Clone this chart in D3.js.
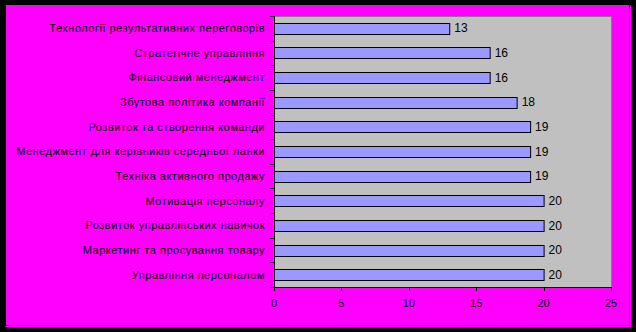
<!DOCTYPE html>
<html>
  <head>
    <meta charset="utf-8" />
    <title>Тренінги</title>
    <script src="https://d3js.org/d3.v7.min.js" charset="utf-8"></script>
    <style>
      body {
        margin: 0;
        background: #000;
      }
      svg {
        display: block;
        font-family: "Liberation Sans", Arial, sans-serif;
      }
      .cat-label {
        font-size: 11px;
        letter-spacing: 0.5px;
      }
      .val-label {
        font-size: 12px;
      }
      .tick-label {
        font-size: 11px;
      }
    </style>
  </head>
  <body>
    <svg></svg>
    <script>
      const categories = [
        "Технології результативних переговорів",
        "Стратегічне управління",
        "Фінансовий менеджмент",
        "Збутова політика компанії",
        "Розвиток та створення команди",
        "Менеджмент для керівників середньої ланки",
        "Техніка активного продажу",
        "Мотивація персоналу",
        "Розвиток управлінських навичок",
        "Маркетинг та просування товару",
        "Управління персоналом",
      ];
      const values = [13, 16, 16, 18, 19, 19, 19, 20, 20, 20, 20];
      const xTicks = [0, 5, 10, 15, 20, 25];

      const W = 636,
        H = 332;
      const plot = { left: 274, right: 611, top: 16, bottom: 287 };

      const svg = d3.select("svg").attr("width", W).attr("height", H);

      // black background + magenta chart area with thin shadow outline
      svg.append("rect").attr("width", W).attr("height", H).attr("fill", "#000");
      svg
        .append("rect")
        .attr("x", 6)
        .attr("y", 5)
        .attr("width", 623)
        .attr("height", 320)
        .attr("fill", "#FF00FF");
      svg
        .append("line")
        .attr("x1", 630.5)
        .attr("x2", 630.5)
        .attr("y1", 5)
        .attr("y2", 327)
        .attr("stroke", "#FF00FF");
      svg
        .append("line")
        .attr("x1", 5)
        .attr("x2", 631)
        .attr("y1", 326.5)
        .attr("y2", 326.5)
        .attr("stroke", "#FF00FF");

      const x = d3
        .scaleLinear()
        .domain([0, 25])
        .range([plot.left, plot.right]);

      const y = d3
        .scaleBand()
        .domain(categories)
        .range([plot.top, plot.bottom])
        .paddingInner(0.55)
        .paddingOuter(0.275);

      // plot area
      svg
        .append("rect")
        .attr("x", plot.left)
        .attr("y", plot.top + 0.5)
        .attr("width", plot.right - plot.left + 0.5)
        .attr("height", plot.bottom - plot.top)
        .attr("fill", "#C0C0C0")
        .attr("stroke", "#808080");

      // bars
      svg
        .selectAll(".bar")
        .data(categories)
        .enter()
        .append("rect")
        .attr("class", "bar")
        .attr("x", x(0) + 0.5)
        .attr("y", (d) => Math.round(y(d)) + 0.5)
        .attr("width", (d, i) => x(values[i]) - x(0))
        .attr("height", Math.round(y.bandwidth()))
        .attr("fill", "#9999FF")
        .attr("stroke", "#000")
        .attr("stroke-width", 1);

      // value labels
      svg
        .selectAll(".val-label")
        .data(categories)
        .enter()
        .append("text")
        .attr("class", "val-label")
        .attr("x", (d, i) => x(values[i]) + 5)
        .attr("y", (d) => y(d) + y.bandwidth() / 2 + 1)
        .attr("dominant-baseline", "middle")
        .text((d, i) => values[i]);

      // category axis
      const step = y.step();
      const gap = (step - y.bandwidth()) / 2;
      const catTicks = categories.map((d) => y(d) - gap);
      catTicks.push(plot.bottom);
      svg
        .append("line")
        .attr("x1", plot.left + 0.5)
        .attr("x2", plot.left + 0.5)
        .attr("y1", plot.top)
        .attr("y2", plot.bottom + 4)
        .attr("stroke", "#000");
      svg
        .selectAll(".cat-tick")
        .data(catTicks)
        .enter()
        .append("line")
        .attr("x1", plot.left - 4)
        .attr("x2", plot.left)
        .attr("y1", (d) => Math.round(d) + 0.5)
        .attr("y2", (d) => Math.round(d) + 0.5)
        .attr("stroke", "#000");

      svg
        .selectAll(".cat-label")
        .data(categories)
        .enter()
        .append("text")
        .attr("class", "cat-label")
        .attr("x", 265)
        .attr("y", (d) => y(d) + y.bandwidth() / 2 + 1)
        .attr("text-anchor", "end")
        .attr("dominant-baseline", "middle")
        .text((d) => d);

      // value axis
      svg
        .append("line")
        .attr("x1", plot.left)
        .attr("x2", plot.right + 1)
        .attr("y1", plot.bottom + 0.5)
        .attr("y2", plot.bottom + 0.5)
        .attr("stroke", "#000");
      svg
        .selectAll(".x-tick")
        .data(xTicks)
        .enter()
        .append("line")
        .attr("x1", (d) => Math.round(x(d)) + 0.5)
        .attr("x2", (d) => Math.round(x(d)) + 0.5)
        .attr("y1", plot.bottom)
        .attr("y2", plot.bottom + 4)
        .attr("stroke", "#000");
      svg
        .selectAll(".tick-label")
        .data(xTicks)
        .enter()
        .append("text")
        .attr("class", "tick-label")
        .attr("x", (d) => x(d))
        .attr("y", 307)
        .attr("text-anchor", "middle")
        .text((d) => d);
    </script>
  </body>
</html>
